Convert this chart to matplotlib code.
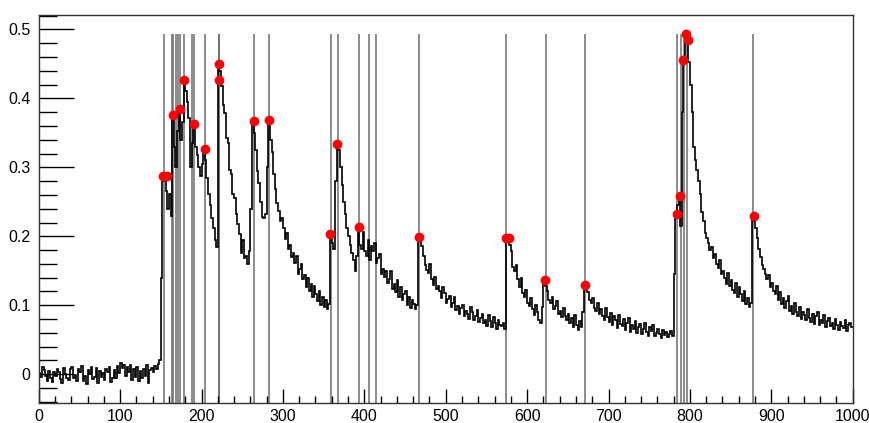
import numpy as np
import matplotlib
matplotlib.use("Agg")
import matplotlib.pyplot as plt
from matplotlib.ticker import MultipleLocator

plt.rcParams['font.family'] = ['Liberation Sans', 'DejaVu Sans']

# Histogram: 500 bins of width 2 over [0, 1000], contents in units of 1e-3
bin_edges = np.arange(0, 1001, 2)

baseline = [
    2, -4, 10, 6, -3, -9, 5, -6, -11, 4,
    -2, 8, 3, -7, -12, 9, 1, -5, -8, 7,
    10, -6, -1, -10, 8, 4, 12, -9, -3, -14,
    6, 1, 11, -7, -4, 9, -13, 5, -4, 2,
    -8, 7, 3, 10, -11, -5, 6, -6, 12, 2,
    16, 9, 14, -3, 11, 4, 13, -8, 7, -4,
    10, -10, 5, -6, 8, -2, 13, -12, 6, 9,
    3, 12, 8, 15, 20,
]
cluster_150_222 = [
    140, 280, 287, 265, 240, 262, 230, 376, 330, 300,
    352, 385, 340, 365, 426, 410, 395, 372, 300, 335,
    363, 330, 318, 300, 288, 305, 326, 310, 285, 262,
    245, 226, 212, 195, 185, 450,
]
tail_222_358 = [
    440, 418, 390, 378, 342, 335, 296, 290, 262, 256,
    232, 218, 204, 176, 194, 168, 172, 160, 178, 240,
    367, 350, 325, 295, 277, 250, 228, 226, 232, 300,
    368, 340, 322, 290, 268, 248, 236, 222, 226, 212,
    196, 205, 182, 188, 170, 176, 162, 171, 146, 152,
    160, 138, 144, 126, 140, 120, 131, 112, 128, 116,
    106, 121, 101, 112, 98, 108, 94, 102,
]
tail_358_466 = [
    203, 190, 182, 280, 334, 325, 300, 275, 250, 233,
    212, 200, 188, 176, 165, 150, 172, 213, 188, 182,
    206, 178, 171, 195, 166, 186, 178, 191, 161, 168,
    174, 146, 152, 141, 149, 132, 138, 150, 124, 131,
    119, 136, 112, 126, 108, 116, 121, 100, 112, 96,
    108, 102, 95, 100,
]
tail_466_574 = [
    199, 196, 186, 172, 158, 151, 147, 160, 138, 130,
    141, 124, 128, 120, 111, 126, 118, 104, 109, 113,
    98, 104, 112, 93, 99, 88, 96, 101, 85, 92,
    87, 80, 98, 90, 78, 84, 93, 76, 81, 88,
    74, 79, 70, 86, 77, 69, 83, 74, 66, 78,
    72, 70, 75, 66,
]
tail_574_622 = [
    198, 196, 187, 178, 156, 149, 158, 138, 126, 140,
    118, 112, 122, 104, 99, 110, 94, 86, 101, 90,
    79, 74, 98, 136,
]
tail_622_672 = [
    128, 121, 108, 103, 112, 95, 99, 106, 87, 92,
    83, 96, 85, 78, 88, 74, 81, 69, 86, 72,
    64, 77, 68, 90, 129,
]
tail_672_782 = [
    122, 119, 108, 103, 110, 96, 92, 104, 88, 94,
    85, 79, 96, 83, 76, 89, 72, 84, 78, 67,
    86, 73, 70, 80, 64, 75, 82, 62, 71, 66,
    77, 60, 69, 73, 58, 65, 74, 61, 56, 68,
    63, 71, 55, 60, 66, 58, 52, 64, 57, 61,
    54, 59, 63, 55, 146,
]
cluster_782_878 = [
    232, 245, 259, 215, 380, 455, 493, 485, 452, 420,
    380, 330, 310, 296, 280, 262, 235, 222, 205, 198,
    190, 180, 184, 168, 174, 160, 154, 165, 146, 150,
    140, 131, 147, 128, 136, 122, 118, 133, 112, 126,
    117, 106, 121, 102, 110, 97, 104, 230,
]
tail_878_1000 = [
    222, 212, 198, 181, 170, 158, 152, 146, 138, 144,
    126, 133, 121, 116, 128, 108, 119, 102, 110, 96,
    106, 114, 92, 99, 87, 104, 90, 84, 97, 80,
    91, 86, 78, 95, 82, 76, 88, 73, 84, 90,
    71, 79, 74, 86, 68, 77, 82, 70, 74, 66,
    80, 72, 64, 76, 70, 67, 78, 63, 71, 74,
    68,
]

bin_contents = np.array(
    baseline + cluster_150_222 + tail_222_358 + tail_358_466 + tail_466_574
    + tail_574_622 + tail_622_672 + tail_672_782 + cluster_782_878 + tail_878_1000,
    dtype=float,
) / 1000.0

# Peak-search candidate positions (vertical markers)
line_positions = [
    153.9, 163.4, 165.4, 168.3, 171.4, 173.8, 178.9, 188.0, 190.8, 204.1,
    220.9, 222.1, 264.9, 283.3, 358.7, 367.3, 393.9, 405.4, 414.0, 467.2,
    574.4, 622.9, 671.5, 783.9, 788.7, 792.7, 796.8, 878.1,
]

# Found peaks (position, height)
peak_x = [
    153.1, 157.2, 164.6, 173.6, 178.5, 191.2, 204.3, 221.1, 221.9, 264.5,
    283.3, 357.9, 366.8, 393.9, 467.2, 574.1, 578.2, 622.4, 671.2, 783.8,
    787.9, 792.0, 794.6, 797.1, 878.4,
]
peak_y = [
    0.287, 0.287, 0.376, 0.385, 0.426, 0.363, 0.326, 0.426, 0.450, 0.367,
    0.368, 0.203, 0.334, 0.213, 0.199, 0.198, 0.197, 0.136, 0.129, 0.232,
    0.259, 0.455, 0.493, 0.485, 0.230,
]

W, H = 869, 423
fig = plt.figure(figsize=(W / 100, H / 100), dpi=100)
ax = fig.add_axes([38.7 / W, (H - 403) / H, (852.7 - 38.7) / W, (403 - 15.3) / H])

y_lo, y_hi = -0.0416, 0.5203
ax.set_xlim(0, 1000)
ax.set_ylim(y_lo, y_hi)

ax.vlines(line_positions, y_lo, bin_contents.max(), colors='#6e6e6e', lw=1.1, zorder=1)
ax.stairs(bin_contents, bin_edges, baseline=None, color='black', lw=1.2, zorder=2)
ax.plot(peak_x, peak_y, 'o', color='red', ms=6, mec='red', zorder=3)

for s in ax.spines.values():
    s.set_color('#333333')
    s.set_linewidth(1.0)

ax.xaxis.set_major_locator(MultipleLocator(100))
ax.xaxis.set_minor_locator(MultipleLocator(20))
ax.yaxis.set_major_locator(MultipleLocator(0.1))
ax.yaxis.set_minor_locator(MultipleLocator(0.02))
ax.tick_params(axis='both', which='both', direction='in', top=False, right=False,
               labelsize=11.5, colors='black')
ax.tick_params(axis='y', which='major', length=25, width=1, pad=6)
ax.tick_params(axis='y', which='minor', length=13, width=1)
ax.tick_params(axis='x', which='major', length=10, width=1, pad=4)
ax.tick_params(axis='x', which='minor', length=5, width=1)
ax.yaxis.set_major_formatter(plt.FuncFormatter(lambda v, p: '0' if abs(v) < 1e-9 else f'{v:.1f}'))

fig.savefig('out.png', dpi=100)
